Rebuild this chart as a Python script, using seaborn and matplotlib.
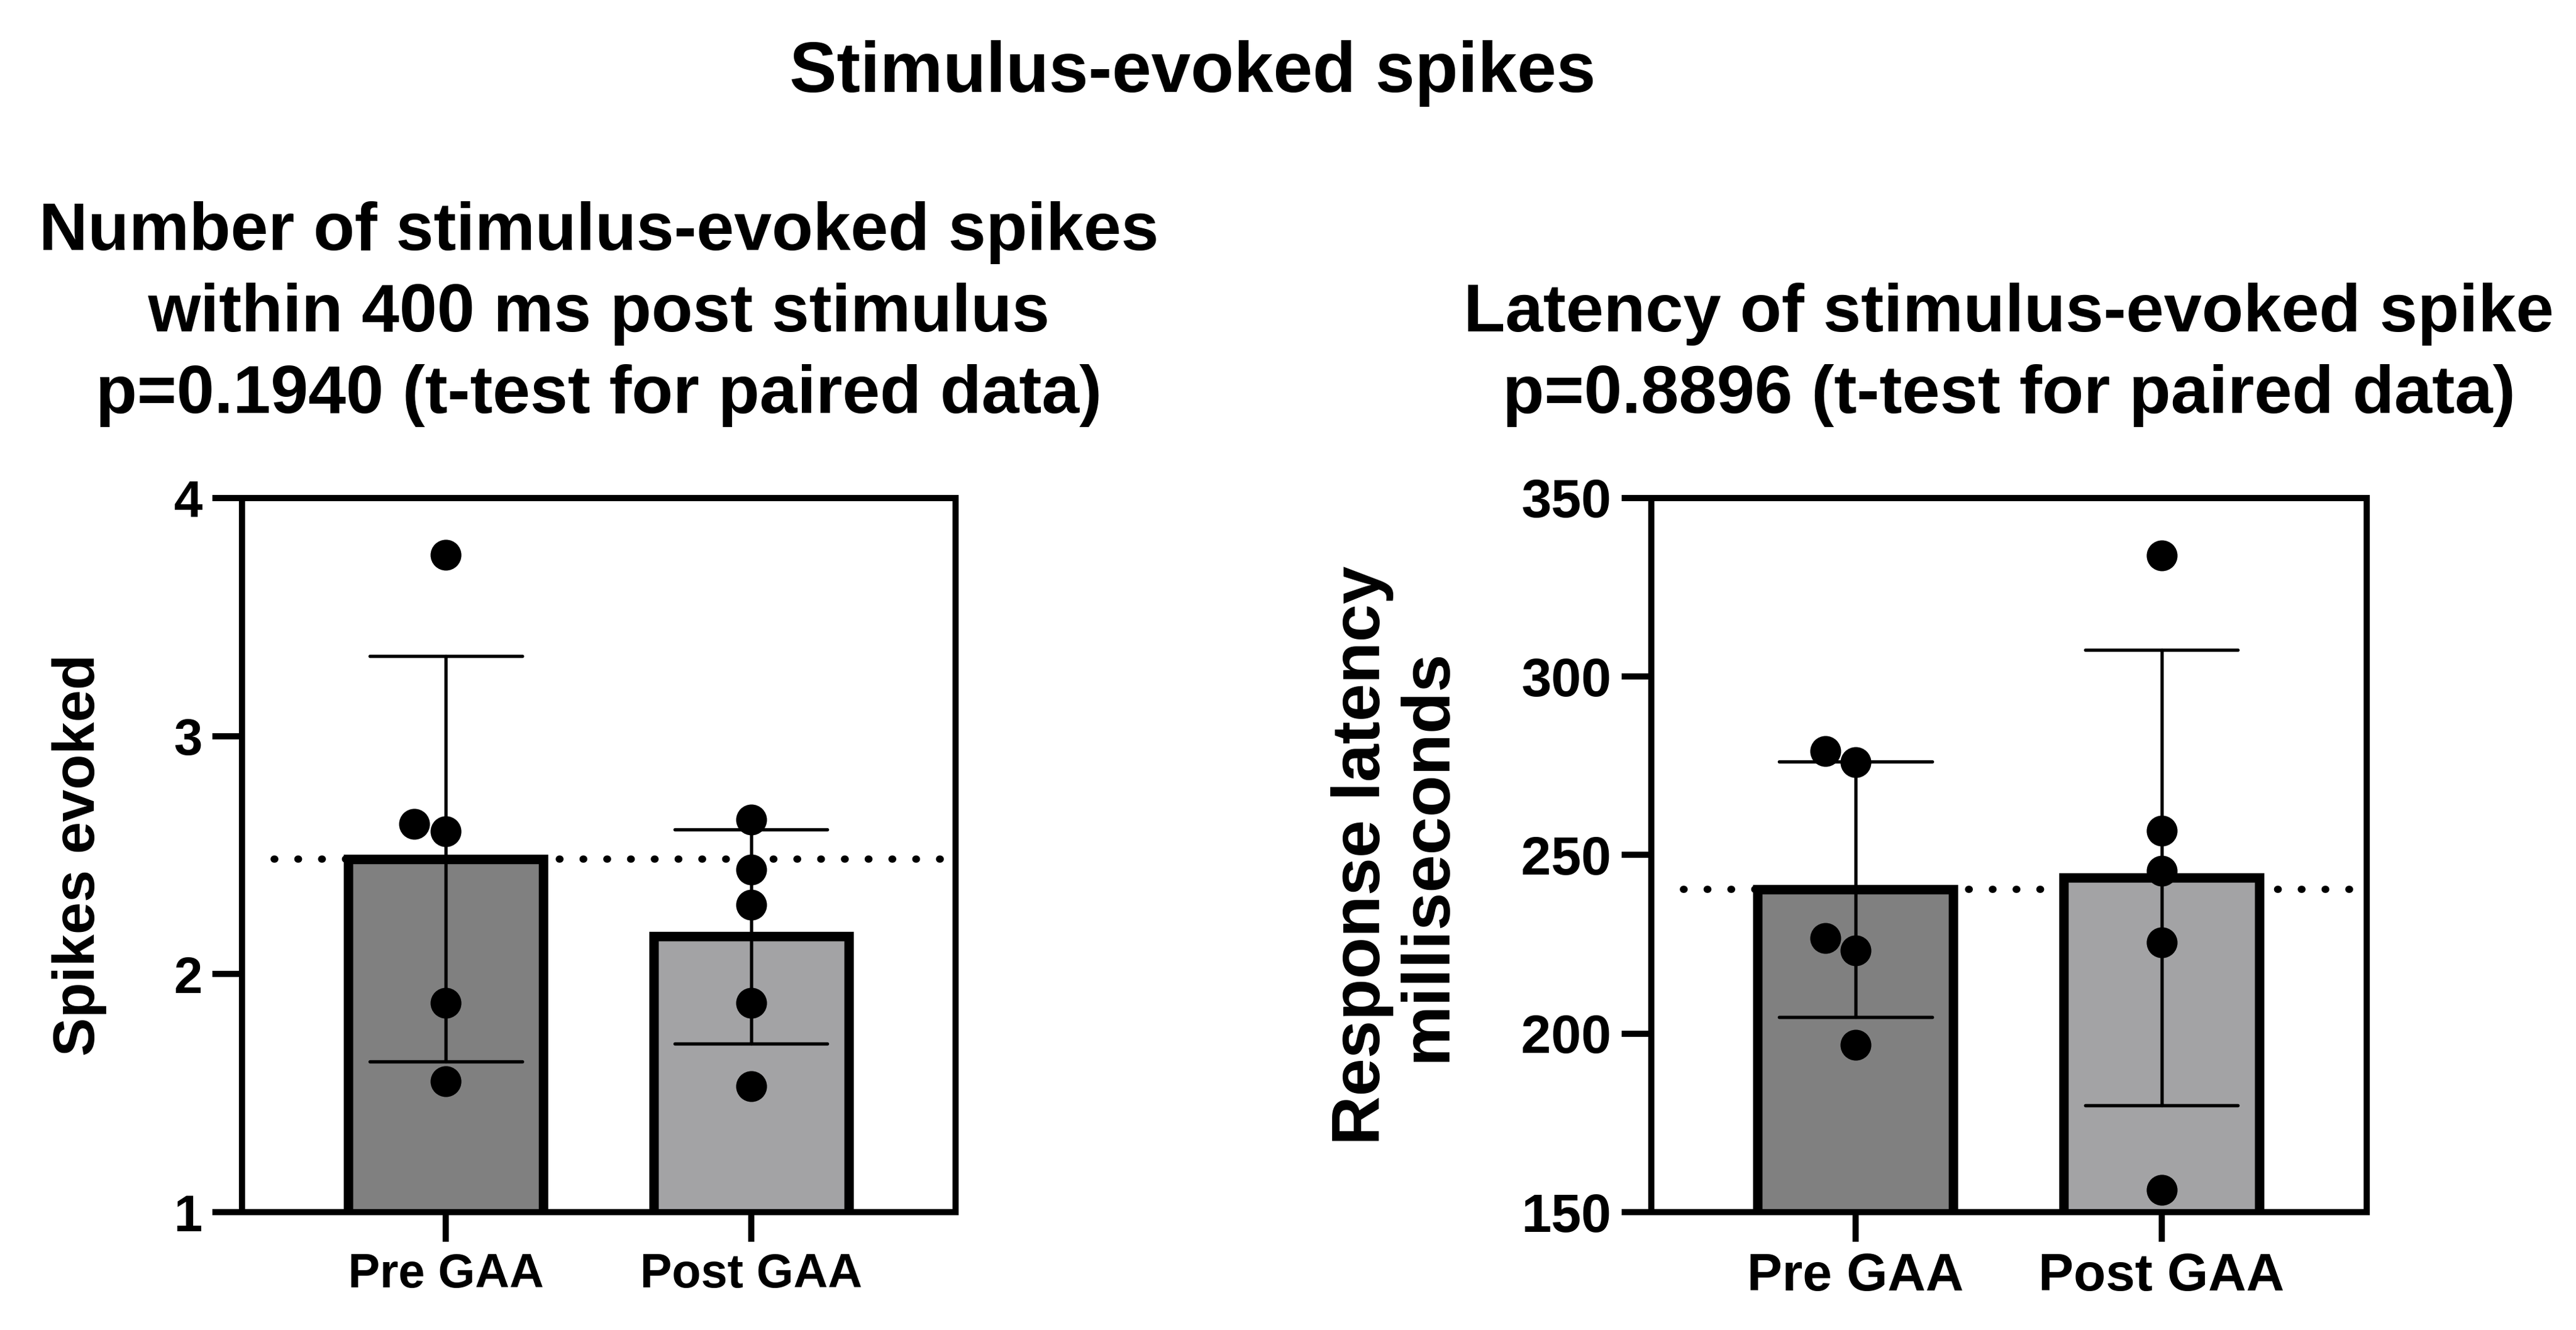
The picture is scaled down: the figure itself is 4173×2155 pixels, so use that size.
import matplotlib
matplotlib.use("Agg")
import matplotlib.pyplot as plt
import seaborn as sns
import numpy as np
import pandas as pd

# data
groups = ["Pre GAA", "Post GAA"]
spikes_pre = [3.76, 2.60, 2.63, 1.88, 1.55]
spikes_post = [2.65, 2.44, 2.29, 1.88, 1.53]
latency_pre = [279.1, 276.0, 226.7, 223.3, 196.9]
latency_post = [333.9, 256.9, 245.5, 225.6, 156.3]

bar_colors = ["#808080", "#a2a2a6"]

sns.set_theme(style="white")
plt.rcParams['font.family'] = ['Liberation Sans', 'DejaVu Sans']
plt.rcParams['font.weight'] = 'bold'
plt.rcParams['text.color'] = 'black'
plt.rcParams['axes.labelcolor'] = 'black'
plt.rcParams['xtick.color'] = 'black'
plt.rcParams['ytick.color'] = 'black'

def make_df(pre, post):
    return pd.DataFrame({"group": [groups[0]] * len(pre) + [groups[1]] * len(post),
                         "value": pre + post})

def panel(ax, df, ref, ylim, yticks, title, ylabel, fs_xtick, fs_ytick, fs_label, fs_title, lpad):
    ax.axhline(ref, xmin=0.045, xmax=1, color="black", lw=2.8,
               linestyle=(0, (0.1, 3.2)), dash_capstyle="round", zorder=0.5)
    sns.barplot(data=df, x="group", y="value", hue="group", palette=bar_colors,
                order=groups, errorbar="sd", capsize=0.5, width=0.64,
                edgecolor="black", linewidth=3.7, legend=False,
                err_kws={"linewidth": 1.3, "color": "black"}, ax=ax)
    sns.swarmplot(data=df, x="group", y="value", order=groups, color="black",
                  size=12, ax=ax, zorder=5)
    ax.set_xlim(-0.667, 1.67)
    ax.set_ylim(*ylim)
    ax.set_yticks(yticks)
    ax.set_xlabel("")
    ax.set_ylabel(ylabel, fontsize=fs_label, fontweight="bold", labelpad=lpad,
                  color="black", linespacing=1.05)
    ax.set_title(title, fontsize=fs_title, fontweight="bold", pad=33,
                 linespacing=1.38, color="black")
    for s in ax.spines.values():
        s.set_linewidth(2.4)
        s.set_color("black")
    ax.tick_params(axis="both", direction="out", length=11.5, width=2.4,
                   color="black", labelcolor="black", pad=4,
                   bottom=True, left=True)
    ax.tick_params(axis="x", labelsize=fs_xtick)
    ax.tick_params(axis="y", labelsize=fs_ytick)
    for lab in ax.get_xticklabels() + ax.get_yticklabels():
        lab.set_fontweight("bold")

fig = plt.figure(figsize=(4173 / 300, 2155 / 300), dpi=300)
ax1 = fig.add_axes([0.094, 0.0886, 0.277, 0.537])
ax2 = fig.add_axes([0.641, 0.0886, 0.2777, 0.537])

panel(ax1, make_df(spikes_pre, spikes_post), np.mean(spikes_pre), (1, 4), [1, 2, 3, 4],
      "Number of stimulus-evoked spikes\nwithin 400 ms post stimulus\np=0.1940 (t-test for paired data)",
      "Spikes evoked", 18.5, 20, 22.5, 26.3, 26)
panel(ax2, make_df(latency_pre, latency_post), np.mean(latency_pre), (150, 350),
      [150, 200, 250, 300, 350],
      "Latency of stimulus-evoked spike\np=0.8896 (t-test for paired data)",
      "Response latency\nmilliseconds", 20.5, 21, 26.5, 26.5, 24)

fig.suptitle("Stimulus-evoked spikes", x=0.463, y=0.97, fontsize=27.5,
             fontweight="bold", color="black")

fig.savefig("out.png", dpi=300, facecolor="white")
